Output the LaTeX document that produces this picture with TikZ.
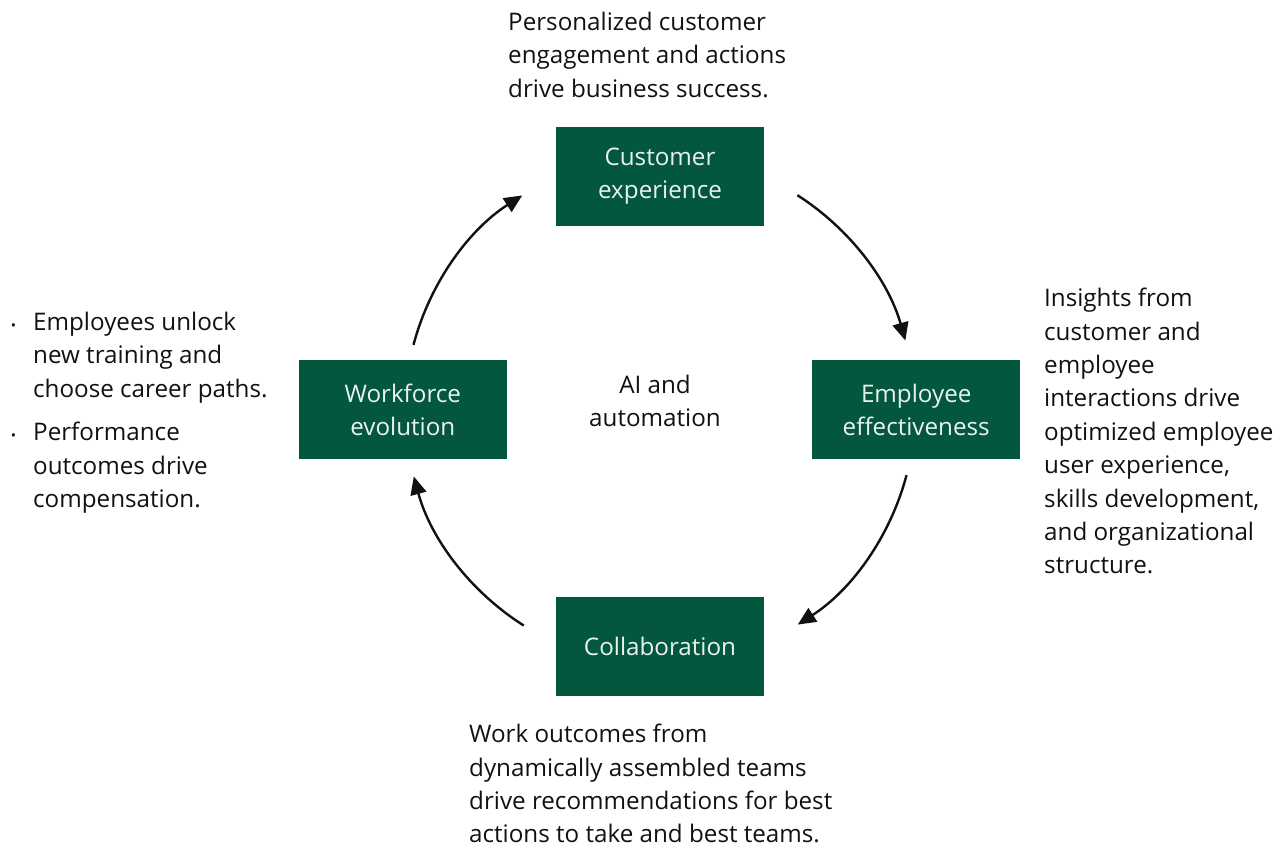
\documentclass[tikz,border=0pt]{standalone}
\usepackage{fontspec}
\setmainfont{Open Sans}
\usepackage{xcolor}
\usetikzlibrary{arrows.meta,positioning}
\definecolor{boxgreen}{HTML}{04573F}
\definecolor{boxtext}{HTML}{EAF2EE}
\definecolor{ink}{HTML}{111111}

\begin{document}
\begin{tikzpicture}[
    x=1pt, y=1pt,
    stage/.style={
        rectangle, % shape
        minimum width=208pt, minimum height=99pt, %size
        fill=boxgreen, %the filling
        text=boxtext, align=center,
        font=\fontsize{24.2}{33}\selectfont %font
      },
    note/.style={
        % plain text blocks around the cycle
        anchor=north west, align=left, inner sep=0pt,
        text=ink,
        font=\fontsize{24.2}{33.4}\selectfont},
    flow/.style={
        line width=2.4pt, ink,
        -{Triangle[length=18pt,width=16pt]}}
  ]
  \useasboundingbox (0,0) rectangle (1288,847);
  \coordinate (hub) at (660,437);

  % the four stages
  \node (cust) [stage,above=184pt of hub] {Customer\\experience};
  \node (empl) [stage,right=152pt of hub] {Employee\\effectiveness};
  \node (collab) [stage,below=187pt of hub] {Collaboration};
  \node (work) [stage,left=153pt of hub] {Workforce\\evolution};
  \node (ai) [text=ink,align=center,font=\fontsize{24.2}{33}\selectfont] at (655,446) {AI and\\automation};

  % arcs of the cycle
  \draw[flow] (hub) ++(57.4:255) arc[start angle=57.4, end angle=15.8, radius=255];
  \draw[flow] (hub) ++(-14.8:255) arc[start angle=-14.8, end angle=-57.3, radius=255];
  \draw[flow] (hub) ++(-122.3:255) arc[start angle=-122.3, end angle=-164.9, radius=255];
  \draw[flow] (hub) ++(165.2:255) arc[start angle=165.2, end angle=122.7, radius=255];

  % notes
  \node (custnote) [note] at (508,835) {Personalized customer\\engagement and actions\\drive business success.};
  \node (emplnote) [note] at (1044,559) {Insights from\\customer and\\employee\\interactions drive\\optimized employee\\user experience,\\skills development,\\and organizational\\structure.};
  \node (worknote1) [note] at (33,535) {\llap{\fontsize{14}{14}\selectfont\textbullet\hspace{17pt}}Employees unlock\\new training and\\choose career paths.};
  \node (worknote2) [note] at (33,425) {\llap{\fontsize{14}{14}\selectfont\textbullet\hspace{17pt}}Performance\\outcomes drive\\compensation.};
  \node (collabnote) [note] at (469,123) {Work outcomes from\\dynamically assembled teams\\drive recommendations for best\\actions to take and best teams.};
\end{tikzpicture}
\end{document}
